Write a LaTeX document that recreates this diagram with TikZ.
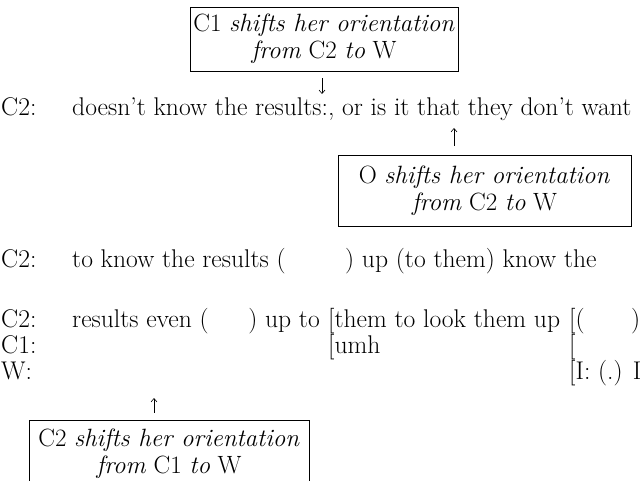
\documentclass[tikz,border=0pt]{standalone}
\usetikzlibrary{arrows.meta}

\tikzset{
  utter/.style={anchor=base west, inner sep=0pt, font=\fontsize{25.6}{29}\selectfont},
  shiftnote/.style={draw, line width=0.8pt, inner sep=0pt, align=center,
    font=\fontsize{25}{27}\selectfont},
  orient/.style={line width=0.6pt, -{Straight Barb[length=3.5pt,width=6pt]}},
}

\begin{document}
\begin{tikzpicture}[x=1pt,y=-1pt]
\useasboundingbox (0,0) rectangle (642,481);
\clip (0,0) rectangle (642,481);

% annotation boxes
\node[shiftnote, minimum width=268pt, minimum height=64pt] (topbox) at (324,39)
  {C1 \textit{shifts her orientation}\\ \textit{from} C2 \textit{to} W};
\node[shiftnote, minimum width=293pt, minimum height=71pt] (midbox) at (484.5,190.5)
  {O \textit{shifts her orientation}\\ \textit{from} C2 \textit{to} W};
\node[shiftnote, minimum width=280pt, minimum height=68pt] (lowbox) at (169,454)
  {C2 \textit{shifts her orientation}\\ \textit{from} C1 \textit{to} W};

% transcript lines
\node[utter] (s1) at (1,116) {C2:};
\node[utter] (u1) at (72,116) {doesn’t know the results:, or is it that they don’t want};

\node[utter] (s2) at (1,267) {C2:};
\node[utter] (u2a) at (72,267) {to know the results (};
\node[utter] (u2b) at (345,267) {) up (to them) know the};

\node[utter] (s3) at (1,327) {C2:};
\node[utter] (u3a) at (72,327) {results even (};
\node[utter, anchor=base east] (u3b) at (320,327) {) up to};
\node[utter] (u3c) at (328,327) {[them to look them up};
\node[utter] (u3d) at (569,327) {[(};
\node[utter] (u3e) at (631,327) {)};

\node[utter] (s4) at (1,353) {C1:};
\node[utter] (u4a) at (u3c.base west |- 0,353) {[umh};
\node[utter] (u4b) at (u3d.base west |- 0,353) {[};

\node[utter] (s5) at (1,379) {W:};
\node[utter] (u5a) at (u3d.base west |- 0,379) {[I: (.) I};

% orientation arrows
\coordinate (t1) at (322,94);
\coordinate (t2) at (454,128);
\coordinate (t3) at (154,398);
\draw[orient, shorten <=7pt] (topbox.south -| t1) -- (t1);
\draw[orient, shorten <=9pt] (midbox.north -| t2) -- (t2);
\draw[orient, shorten <=7pt] (lowbox.north -| t3) -- (t3);
\end{tikzpicture}
\end{document}
